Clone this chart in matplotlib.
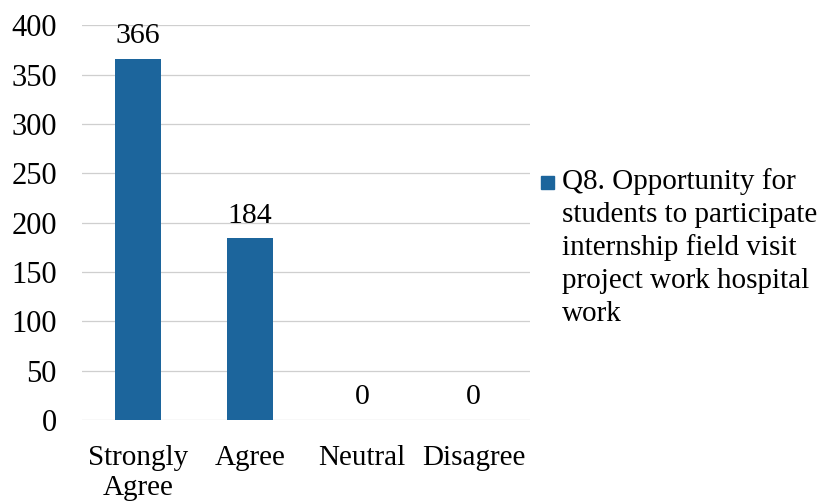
import matplotlib.pyplot as plt
from matplotlib.patches import Rectangle

# Datos del gráfico
categories = ["Strongly\nAgree", "Agree", "Neutral", "Disagree"]
counts = [366, 184, 0, 0]
yticks = [0, 50, 100, 150, 200, 250, 300, 350, 400]
series_label = "Q8. Opportunity for\nstudents to participate\ninternship field visit\nproject work hospital\nwork"

plt.rcParams['font.family'] = ['Liberation Serif', 'DejaVu Serif']
bar_color = "#1c659c"

fig = plt.figure(figsize=(8.2, 5.04), dpi=100)
ax = fig.add_axes([0.10, 0.167, 0.546, 0.783])

x = range(len(categories))
bars = ax.bar(x, counts, width=0.41, color=bar_color, zorder=3)
for b, v in zip(bars, counts):
    ax.annotate(str(v), (b.get_x() + b.get_width() / 2, v), xytext=(0, 7),
                textcoords="offset points", ha="center", va="bottom", fontsize=21.5)

ax.set_xlim(-0.5, len(categories) - 0.5)
ax.set_ylim(0, 400)
ax.set_yticks(yticks)
ax.set_xticks(list(x))
ax.set_xticklabels(categories, fontsize=21, linespacing=1.2)
ax.tick_params(axis="y", labelsize=22, length=0, pad=18)
ax.tick_params(axis="x", length=0, pad=18)
ax.grid(axis="y", color="#cfcfcf", linewidth=0.9, zorder=0)
for s in ax.spines.values():
    s.set_visible(False)

# Leyenda
fig.patches.append(Rectangle((541 / 820, 1 - 189 / 504), 13 / 820, 13 / 504,
                             transform=fig.transFigure, color=bar_color))
fig.text(562 / 820, 1 - 168 / 504, series_label, fontsize=21, va="top",
         ha="left", linespacing=1.33)

plt.savefig("out.png", dpi=100)
